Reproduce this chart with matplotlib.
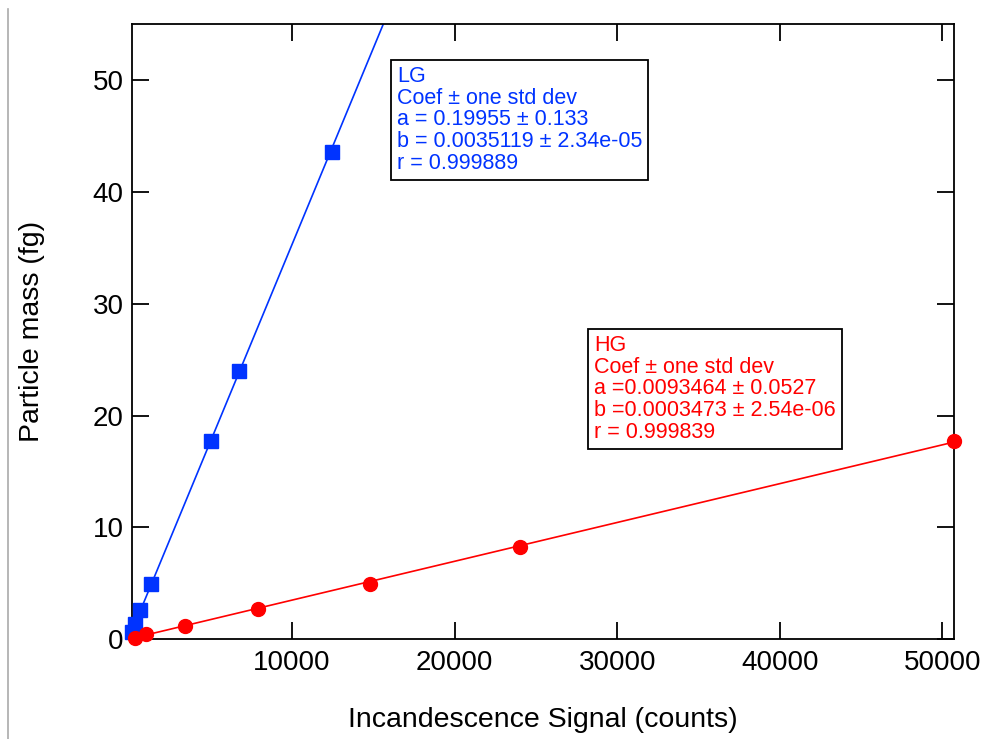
import numpy as np
import matplotlib.pyplot as plt
from matplotlib.lines import Line2D

plt.rcParams['font.family'] = ['Liberation Sans', 'DejaVu Sans']

# LG channel (blue squares)
lg_x = [150, 360, 650, 1300, 5040, 6740, 12440]
lg_y = [0.6, 1.3, 2.6, 4.9, 17.7, 24.0, 43.6]
lg_a, lg_b = 0.19955, 0.0035119

# HG channel (red circles)
hg_x = [320, 1000, 3400, 7900, 14780, 24010, 50720]
hg_y = [0.08, 0.42, 1.2, 2.65, 4.95, 8.25, 17.7]
hg_a, hg_b = 0.0093464, 0.0003473

lg_text = "LG\nCoef ± one std dev\na = 0.19955 ± 0.133\nb = 0.0035119 ± 2.34e-05\nr = 0.999889"
hg_text = "HG\nCoef ± one std dev\na =0.0093464 ± 0.0527\nb =0.0003473 ± 2.54e-06\nr = 0.999839"

blue = '#0033ff'
red = '#ff0000'

W, H = 985, 739
fig = plt.figure(figsize=(W / 100, H / 100), dpi=100)
ax = fig.add_axes([0.134, 0.1353, 0.8345, 0.8317])

xmin, xmax = 150, 50720
ax.set_xlim(xmin, xmax)
ax.set_ylim(0, 55)

# fit lines
xf = np.array([xmin, xmax])
ax.plot(xf, lg_a + lg_b * xf, color=blue, lw=1.2, zorder=2)
xh = np.array([120, max(hg_x)])
ax.plot(xh, hg_a + hg_b * xh, color=red, lw=1.2, zorder=2)

ax.plot(lg_x, lg_y, 's', color=blue, ms=10.5, mec=blue, clip_on=False, zorder=3)
ax.plot(hg_x, hg_y, 'o', color=red, ms=10, mec=red, clip_on=False, zorder=3)

ax.set_xticks([10000, 20000, 30000, 40000, 50000])
ax.set_yticks([0, 10, 20, 30, 40, 50])
ax.tick_params(direction='in', length=12, width=1.3, labelsize=20,
               top=True, right=True)
ax.tick_params(axis='x', pad=8)
ax.tick_params(axis='y', pad=6)
for s in ax.spines.values():
    s.set_linewidth(1.3)

ax.set_xlabel('Incandescence Signal (counts)', fontsize=20.5, labelpad=22)
ax.set_ylabel('Particle mass (fg)', fontsize=20.5, labelpad=34)

box = dict(boxstyle='square,pad=0.28', fc='white', ec='black', lw=1.3)
fig.text(397 / W, 1 - 66 / H, lg_text, fontsize=15.5, color=blue,
         va='top', ha='left', linespacing=1.04, bbox=box)
fig.text(594 / W, 1 - 335 / H, hg_text, fontsize=15.5, color=red,
         va='top', ha='left', linespacing=1.04, bbox=box)

# grey rule at left edge
fig.add_artist(Line2D([8 / W, 8 / W], [0, 1 - 9 / H],
                      color='#aaaaaa', lw=1.2))

fig.savefig('out.png', dpi=100)
